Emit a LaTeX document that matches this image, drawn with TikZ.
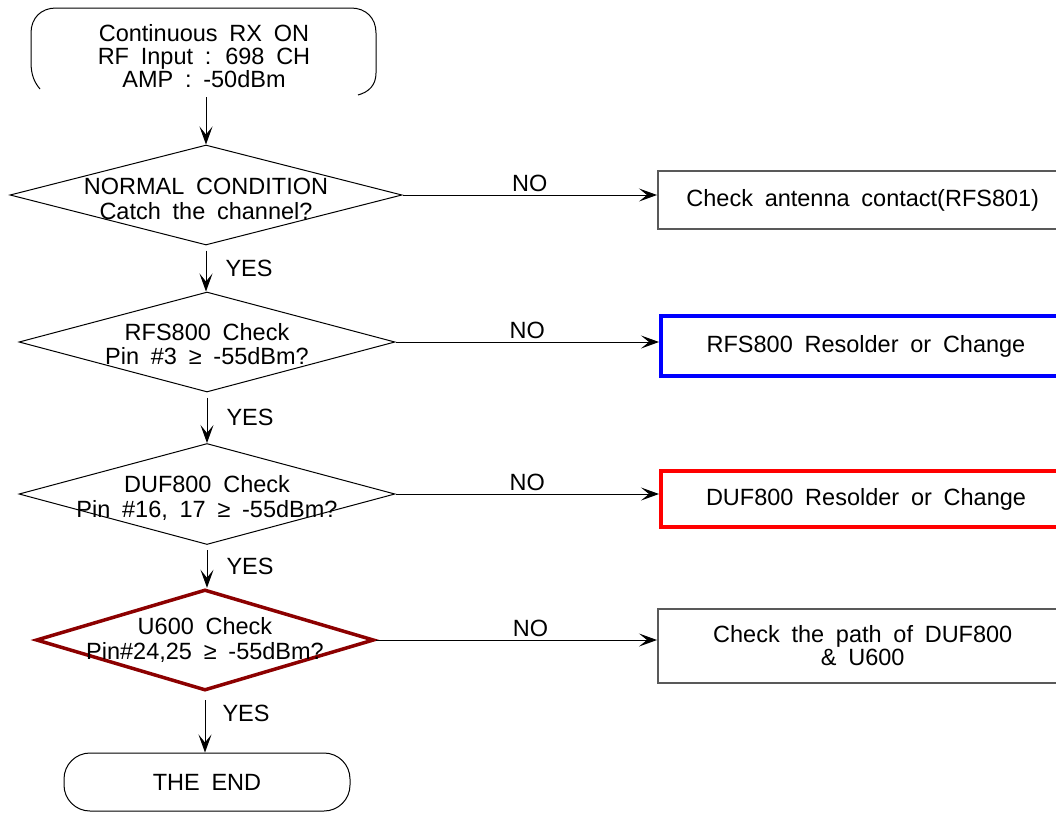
\documentclass[tikz,border=0pt]{standalone}
\usepackage{fontspec}
\setmainfont{Liberation Sans}[WordSpace=1.8]
\usetikzlibrary{shapes.geometric,arrows.meta}
\definecolor{pinred}{RGB}{140,0,0}

\begin{document}
\begin{tikzpicture}[x=1pt, y=-1pt,
    every node/.style={font=\fontsize{23.5}{23}\selectfont, align=center},
    arr/.style={-{Stealth[length=18pt,width=13pt,inset=8pt]}, line width=1pt},
    check/.style={diamond, draw, line width=1pt, inner sep=0pt, minimum width=376pt, minimum height=100pt},
    ask/.style={font=\fontsize{23.5}{24.5}\selectfont, yshift=#1},
    fix/.style={rectangle, draw, anchor=west, inner sep=0pt, minimum width=410pt},
    nolab/.style={above=3pt, inner sep=0pt},
    yeslab/.style={midway, right=19pt, inner sep=0pt}]
    \clip (0,0) rectangle (1056,812);

    % Start
    \node[inner sep=0pt, minimum width=345pt, minimum height=82pt] (start) at (204,56)
        {Continuous RX ON\\RF Input : 698 CH\\AMP : -50dBm};
    \draw[line width=1pt] (40,89) .. controls (35,83) and (31,76) .. (31,62) -- (31,33)
        .. controls (31,18) and (41,8) .. (56,8) -- (351,8)
        .. controls (366,8) and (376,18) .. (376,33) -- (376,73)
        .. controls (376,85) and (369,92) .. (358,95);

    % Checks
    \node[check, minimum width=392pt] (d1) at (206,195)
        [label={[ask=-4pt]center:{NORMAL CONDITION\\Catch the channel?}}] {};
    \node[check] (d2) at (207,342)
        [label={[ask=-2pt]center:{RFS800 Check\\Pin \#3 ≥ -55dBm?}}] {};
    \node[check, minimum height=101pt] (d3) at (207,494)
        [label={[ask=-4pt]center:{DUF800 Check\\Pin \#16, 17 ≥ -55dBm?}}] {};
    \node[check, draw=pinred, line width=3.5pt, minimum width=338pt, minimum height=101pt] (d4)
        at (205,640) [label={[ask=0pt]center:{U600 Check\\Pin\#24,25 ≥ -55dBm?}}] {};

    % Repairs
    \node[fix, draw=black!65, line width=1.5pt, minimum height=58pt] (b1) at (657,200)
        {Check antenna contact(RFS801)};
    \node[fix, draw=blue, line width=4pt, minimum height=60pt] (b2) at (659,346)
        {RFS800 Resolder or Change};
    \node[fix, draw=red, line width=4pt, minimum height=56pt] (b3) at (659,499)
        {DUF800 Resolder or Change};
    \node[fix, draw=black!65, line width=1.5pt, minimum height=74pt] (b4) at (657,646)
        {Check the path of DUF800\\\& U600};

    % End
    \node[draw, line width=1pt, rounded corners=26pt, minimum width=286pt, minimum height=58pt]
        (stop) at (207,782) {THE END};

    % Arrows
    \draw[arr] (start.south -| d1.north) -- (d1.north);
    \foreach \a/\b in {d1/d2, d2/d3, d3/d4}
        \draw[arr, shorten <=5pt] (\a.south) -- (\a.south |- \b.north) node[yeslab] {YES};
    \draw[arr, shorten <=8pt] (d4.south) -- (d4.south |- stop.north)
        node[pos=0.35, right=17pt, inner sep=0pt] {YES};
    \foreach \a/\b/\p in {d1/b1/0.5, d2/b2/0.5, d3/b3/0.5, d4/b4/0.55}
        \draw[arr] (\a.east) -- (\a.east -| \b.west) node[nolab, pos=\p] {NO};
\end{tikzpicture}
\end{document}
